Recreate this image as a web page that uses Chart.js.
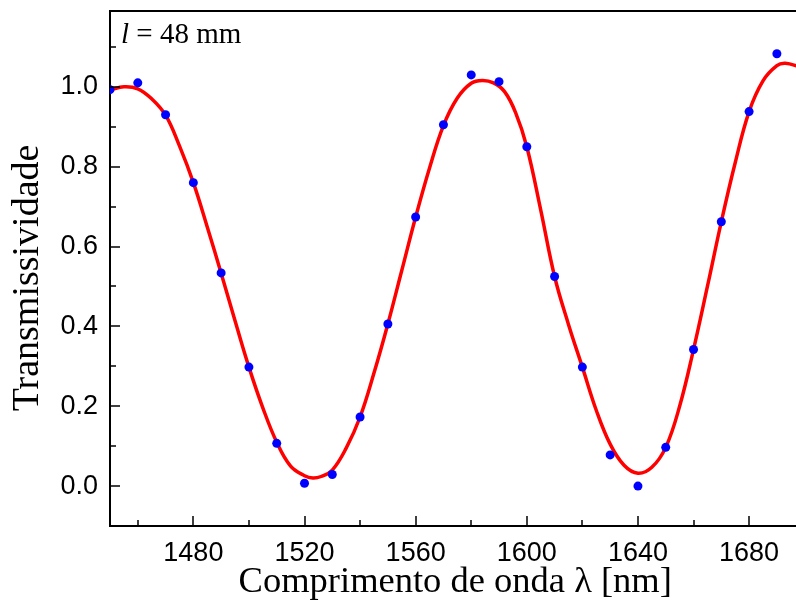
<!DOCTYPE html>
<html>
<head>
<meta charset="utf-8">
<script src="https://cdn.jsdelivr.net/npm/chart.js@4/dist/chart.umd.min.js"></script>
<style>
  html, body { margin: 0; padding: 0; background: #fff; overflow: hidden; }
  #wrap { width: 805px; height: 604px; }
</style>
</head>
<body>
<div id="wrap"><canvas id="c" width="805" height="604"></canvas></div>
<script>
// ---- data ----
const wavelength = [1450,1460,1470,1480,1490,1500,1510,1520,1530,1540,1550,1560,1570,1580,1590,1600,1610,1620,1630,1640,1650,1660,1670,1680,1690];
const measured   = [0.993,1.010,0.930,0.760,0.534,0.298,0.107,0.007,0.029,0.173,0.406,0.674,0.905,1.030,1.013,0.850,0.525,0.298,0.078,0.000,0.097,0.342,0.662,0.938,1.083];

const fitWavelength = [1450,1455,1460,1465,1470,1475,1480,1485,1490,1495,1500,1505,1510,1515,1520,1523,1526,1530,1535,1540,1545,1550,1555,1560,1565,1570,1575,1580,1584,1588,1592,1596,1600,1605,1610,1615,1620,1625,1630,1635,1640,1645,1650,1655,1660,1665,1670,1675,1680,1685,1690,1693,1698.5];
const fitValues     = [0.992,1.000,0.995,0.970,0.929,0.852,0.760,0.649,0.533,0.414,0.298,0.196,0.110,0.050,0.026,0.020,0.024,0.040,0.095,0.173,0.283,0.406,0.540,0.674,0.797,0.903,0.972,1.009,1.016,1.010,0.988,0.935,0.850,0.692,0.525,0.405,0.298,0.190,0.105,0.052,0.032,0.047,0.097,0.200,0.342,0.500,0.662,0.810,0.938,1.015,1.053,1.059,1.050];

const xTickLabels = [1480,1520,1560,1600,1640,1680];
const xMinorTicks = [1460,1500,1540,1580,1620,1660];
const yTickLabels = [0.0,0.2,0.4,0.6,0.8,1.0];
const yMinorTicks = [0.1,0.3,0.5,0.7,0.9,1.1];
const annotationLength = "48 mm";

// ---- chart ----
const near = (a, b) => Math.abs(a - b) < 1e-6;

const inwardTicks = {
  id: 'inwardTicks',
  afterDraw(chart) {
    const ctx = chart.ctx, a = chart.chartArea;
    const xs = chart.scales.x, ys = chart.scales.y;
    ctx.save();
    ctx.strokeStyle = '#000';
    ctx.lineWidth = 1.5;
    ctx.beginPath();
    xs.ticks.forEach(t => {
      const v = t.value;
      const major = xTickLabels.some(l => near(l, v));
      const px = Math.round(xs.getPixelForValue(v));
      ctx.moveTo(px, a.bottom);
      ctx.lineTo(px, a.bottom - (major ? 10 : 6));
    });
    ys.ticks.forEach(t => {
      const v = t.value;
      const major = yTickLabels.some(l => near(l, v));
      const py = Math.round(ys.getPixelForValue(v));
      ctx.moveTo(a.left, py);
      ctx.lineTo(a.left + (major ? 10 : 6), py);
    });
    ctx.stroke();
    // annotation
    ctx.fillStyle = '#000';
    ctx.textBaseline = 'alphabetic';
    ctx.textAlign = 'left';
    let x = a.left + 11, y = a.top + 32;
    ctx.font = 'italic 29px "Liberation Serif", "DejaVu Serif", serif';
    ctx.fillText('l', x, y);
    x += ctx.measureText('l').width;
    ctx.font = '29px "Liberation Serif", "DejaVu Serif", serif';
    ctx.fillText(' = ' + annotationLength, x, y);
    ctx.restore();
  }
};

new Chart(document.getElementById('c'), {
  data: {
    datasets: [
      {
        type: 'scatter',
        label: 'measured',
        data: wavelength.map((w, i) => ({ x: w, y: measured[i] })),
        backgroundColor: '#0000ff',
        borderColor: '#0000ff',
        pointRadius: 4.5,
        pointBorderWidth: 0,
        order: 0
      },
      {
        type: 'line',
        label: 'fit',
        data: fitWavelength.map((w, i) => ({ x: w, y: fitValues[i] })),
        borderColor: '#ff0000',
        borderWidth: 3.5,
        pointRadius: 0,
        fill: false,
        tension: 0.4,
        order: 1
      }
    ]
  },
  options: {
    responsive: false,
    animation: false,
    devicePixelRatio: 1,
    layout: { padding: { top: 11, right: 1, left: 0, bottom: 0 } },
    plugins: { legend: { display: false }, tooltip: { enabled: false } },
    scales: {
      x: {
        type: 'linear',
        position: 'bottom',
        min: 1450,
        max: 1698.5,
        afterBuildTicks: s => { s.ticks = xTickLabels.concat(xMinorTicks).sort((a, b) => a - b).map(v => ({ value: v })); },
        afterFit: s => { s.height = 78; s.paddingLeft = 0; s.paddingRight = 0; },
        border: { display: true, color: '#000', width: 2 },
        grid: { display: false, drawTicks: false },
        ticks: {
          autoSkip: false,
          maxRotation: 0,
          padding: 11,
          color: '#000',
          font: { family: '"Liberation Sans", Arial, sans-serif', size: 27 },
          callback: v => xTickLabels.some(l => near(l, v)) ? String(v) : ''
        },
        title: {
          display: true,
          text: 'Comprimento de onda λ [nm]',
          color: '#000',
          font: { family: '"Liberation Serif", "DejaVu Serif", serif', size: 36.5 },
          padding: { top: 0, bottom: 0 }
        }
      },
      xTop: {
        type: 'linear',
        position: 'top',
        min: 1450,
        max: 1698.5,
        afterFit: s => { s.height = 0; s.paddingLeft = 0; s.paddingRight = 0; },
        border: { display: true, color: '#000', width: 2 },
        grid: { display: false, drawTicks: false },
        ticks: { display: false }
      },
      y: {
        type: 'linear',
        position: 'left',
        min: -0.1,
        max: 1.19,
        afterBuildTicks: s => { s.ticks = yTickLabels.concat(yMinorTicks).sort((a, b) => a - b).map(v => ({ value: v })); },
        afterFit: s => { s.width = 110; s.paddingTop = 0; s.paddingBottom = 0; },
        border: { display: true, color: '#000', width: 2 },
        grid: { display: false, drawTicks: false },
        ticks: {
          autoSkip: false,
          padding: 12,
          color: '#000',
          font: { family: '"Liberation Sans", Arial, sans-serif', size: 27 },
          callback: v => { const m = yTickLabels.find(l => near(l, v)); return m !== undefined ? m.toFixed(1) : ''; }
        },
        title: {
          display: true,
          text: 'Transmissividade  ',
          color: '#000',
          font: { family: '"Liberation Serif", "DejaVu Serif", serif', size: 38 },
          padding: { top: 5, bottom: 0 }
        }
      }
    }
  },
  plugins: [inwardTicks]
});
</script>
</body>
</html>
